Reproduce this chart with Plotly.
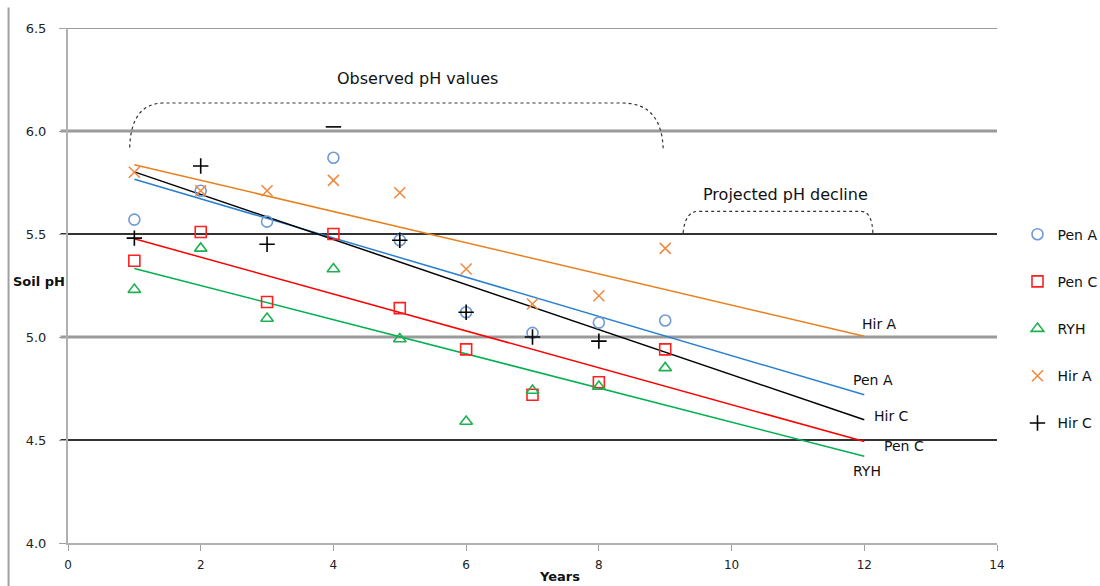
import numpy as np
import plotly.graph_objects as go

# ---------------- data ----------------
years = [1, 2, 3, 4, 5, 6, 7, 8, 9]
years_hirc = [1, 2, 3, 4, 5, 6, 7, 8]
pen_a = [5.57, 5.71, 5.56, 5.87, 5.47, 5.12, 5.02, 5.07, 5.08]
pen_c = [5.37, 5.51, 5.17, 5.50, 5.14, 4.94, 4.72, 4.78, 4.94]
ryh = [5.23, 5.43, 5.09, 5.33, 4.99, 4.59, 4.74, 4.76, 4.85]
hir_a = [5.80, 5.71, 5.71, 5.76, 5.70, 5.33, 5.16, 5.20, 5.43]
hir_c = [5.48, 5.83, 5.45, 6.02, 5.47, 5.12, 5.00, 4.98]
trend_x = [1, 12]
x_ticks = [0, 2, 4, 6, 8, 10, 12, 14]
y_ticks = [4.0, 4.5, 5.0, 5.5, 6.0, 6.5]

FONT = "'DejaVu Sans', sans-serif"

series = [
    # name, x, y, symbol, marker color, line color, label offset (dx, dy)
    ("Pen A", years, pen_a, "circle-open", "#6F9AD6", "#2A80D0", (-0.2, 0.07)),
    ("Pen C", years, pen_c, "square-open", "#FF2020", "#FF0000", (0.27, -0.02)),
    ("RYH", years, ryh, "triangle-up-open", "#20B050", "#00B050", (-0.2, -0.07)),
    ("Hir A", years, hir_a, "x-thin-open", "#F08A40", "#E8801E", (-0.06, 0.06)),
    ("Hir C", years_hirc, hir_c, "cross-thin-open", "#000000", "#000000", (0.12, 0.02)),
]

fig = go.Figure()

for i, (name, xs, ys, sym, mcol, lcol, off) in enumerate(series):
    slope, icpt = np.polyfit(xs, ys, 1)
    ty = [slope * t + icpt for t in trend_x]
    fig.add_trace(go.Scatter(
        x=trend_x, y=ty, mode="lines", line=dict(color=lcol, width=1.5),
        showlegend=False, hoverinfo="skip"))
    fig.add_annotation(x=trend_x[-1] + off[0], y=ty[-1] + off[1], text=name,
                       showarrow=False, xanchor="left", yanchor="middle",
                       font=dict(family=FONT, size=14, color="#111111"))

for i, (name, xs, ys, sym, mcol, lcol, off) in enumerate(series):
    symbols = [sym] * len(xs)
    if name == "Hir C":
        symbols[3] = "line-ew-open"
    fig.add_trace(go.Scatter(
        x=xs, y=ys, mode="markers", name=name, legendgroup=name,
        marker=dict(symbol=symbols, size=11, color=mcol,
                    line=dict(color=mcol, width=1.6))))

# gridlines (alternating look of the original)
shapes = []
for v in y_ticks[1:]:
    dark = v in (4.5, 5.5)
    top = v == y_ticks[-1]
    shapes.append(dict(type="line", xref="paper", yref="y", x0=-0.008, x1=1,
                       y0=v, y1=v,
                       line=dict(color="#333333" if dark else "#9A9A9A",
                                 width=2 if (dark or top) else 3), layer="below"))

# chart-area left border
shapes.append(dict(type="line", xref="paper", yref="paper", x0=-0.064, x1=-0.064,
                   y0=-0.09, y1=1.04, line=dict(color="#A0A0A0", width=2)))

# braces
shapes.append(dict(type="path", xref="x", yref="y",
                   path="M 0.93,5.92 Q 0.95,6.136 1.45,6.136 L 8.35,6.136 Q 8.95,6.136 8.97,5.91",
                   line=dict(color="#333333", width=1.2, dash="dot")))
shapes.append(dict(type="path", xref="x", yref="y",
                   path="M 9.27,5.505 Q 9.3,5.61 9.5,5.61 L 11.95,5.61 Q 12.12,5.61 12.13,5.5",
                   line=dict(color="#333333", width=1.2, dash="dot")))

fig.add_annotation(x=5.26, y=6.253, text="Observed pH values", showarrow=False,
                   font=dict(family=FONT, size=16, color="#111111"))
fig.add_annotation(x=10.82, y=5.69, text="Projected pH decline", showarrow=False,
                   font=dict(family=FONT, size=16, color="#111111"))
fig.add_annotation(xref="paper", yref="y", x=-0.061, y=5.27, text="<b>Soil pH</b>",
                   showarrow=False, xanchor="left",
                   font=dict(family=FONT, size=13, color="#111111"))
fig.add_annotation(xref="x", yref="paper", x=7.41, y=-0.065, text="<b>Years</b>",
                   showarrow=False, yanchor="middle",
                   font=dict(family=FONT, size=13, color="#111111"))

fig.update_layout(
    width=1100, height=586,
    margin=dict(l=68, r=103, t=28, b=43),
    paper_bgcolor="white", plot_bgcolor="white",
    font=dict(family=FONT, size=11, color="#222222"),
    shapes=shapes,
    legend=dict(xref="container", yref="container", x=0.925, y=0.627,
                xanchor="left", yanchor="top",
                traceorder="grouped", tracegroupgap=26,
                font=dict(family=FONT, size=14, color="#111111"),
                bgcolor="rgba(0,0,0,0)"),
    xaxis=dict(range=[0, 14], tickvals=x_ticks, ticks="outside", ticklen=6,
               tickcolor="#A0A0A0", showgrid=False, zeroline=False,
               showline=True, linecolor="#B0B0B0", linewidth=2,
               tickfont=dict(size=12), ticklabelstandoff=4),
    yaxis=dict(range=[4.0, 6.5], tickvals=y_ticks, tickformat=".1f",
               ticks="outside", ticklen=7, tickcolor="#A0A0A0", showgrid=False,
               zeroline=False, showline=True, linecolor="#B0B0B0", linewidth=2,
               tickfont=dict(size=13), ticklabelstandoff=10),
)

fig.write_html("out.html")
